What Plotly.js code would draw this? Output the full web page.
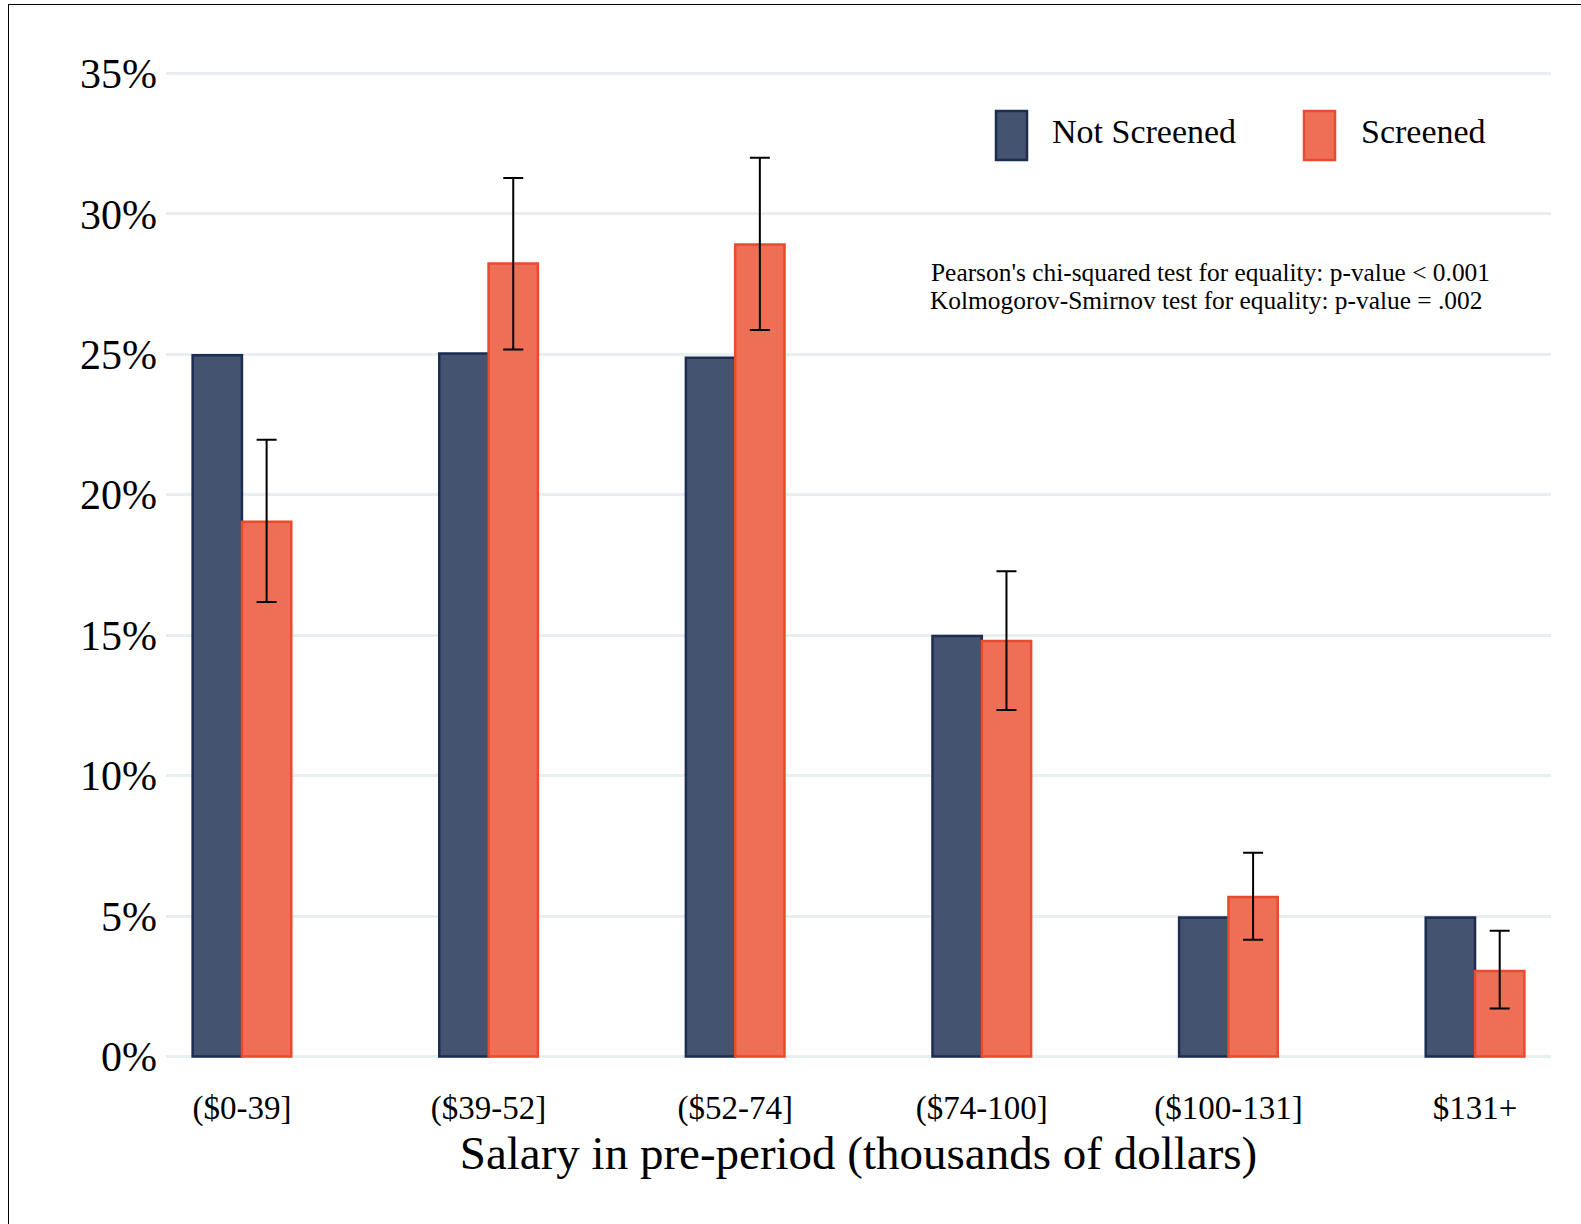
<!DOCTYPE html>
<html>
<head>
<meta charset="utf-8">
<script src="https://cdn.plot.ly/plotly-3.0.1.min.js"></script>
<style>
  html, body { margin: 0; padding: 0; background: #fff; }
  #chart { width: 1581px; height: 1224px; position: relative; }
  #frame { position: absolute; left: 8px; top: 4px; right: 0; bottom: 0;
           border-left: 1.5px solid #000; border-top: 1.5px solid #000; pointer-events: none; }
</style>
</head>
<body>
<div id="chart"></div>
<div id="frame"></div>
<script>
// ---- data ----
const categories = ["($0-39]", "($39-52]", "($52-74]", "($74-100]", "($100-131]", "$131+"];
const notScreened = [24.97, 25.03, 24.88, 14.97, 4.95, 4.95];
const screened    = [19.04, 28.23, 28.91, 14.79, 5.68, 3.05];
const screenedCiHigh = [21.96, 31.28, 32.00, 17.28, 7.26, 4.48];
const screenedCiLow  = [16.18, 25.17, 25.87, 12.34, 4.16, 1.71];
const yTickVals = [0, 5, 10, 15, 20, 25, 30, 35];
const seriesNames = ["Not Screened", "Screened"];
const noteLines = [
  "Pearson's chi-squared test for equality: p-value < 0.001",
  "Kolmogorov-Smirnov test for equality: p-value = .002"
];

// ---- styles ----
const FONT = '"Liberation Serif", "Times New Roman", Times, serif';
const darkFill = '#44536f', darkLine = '#1b2d51';
const orangeFill = '#ee6f55', orangeLine = '#e84b2d';

const errPlus = screened.map((v, i) => screenedCiHigh[i] - v);
const errMinus = screened.map((v, i) => v - screenedCiLow[i]);

const W = 1581, H = 1224;
const L = 166, R = 30, T = 65, B = 159;
const plotW = W - L - R, plotH = H - T - B;
const px2x = px => (px - L) / plotW;
const py2y = py => (H - B - py) / plotH;

const traces = [
  {
    type: 'bar', name: seriesNames[0], x: categories, y: notScreened,
    marker: { color: darkFill, line: { color: darkLine, width: 2.5 } },
    showlegend: false, hoverinfo: 'skip'
  },
  {
    type: 'bar', name: seriesNames[1], x: categories, y: screened,
    marker: { color: orangeFill, line: { color: orangeLine, width: 2.5 } },
    error_y: { type: 'data', symmetric: false, array: errPlus, arrayminus: errMinus,
               color: '#000', thickness: 2, width: 10 },
    showlegend: false, hoverinfo: 'skip'
  }
];

const shapes = [
  { type: 'rect', xref: 'paper', yref: 'paper', x0: px2x(996), x1: px2x(1027), y0: py2y(160), y1: py2y(111),
    fillcolor: darkFill, line: { color: darkLine, width: 2.5 } },
  { type: 'rect', xref: 'paper', yref: 'paper', x0: px2x(1304), x1: px2x(1335), y0: py2y(160), y1: py2y(111),
    fillcolor: orangeFill, line: { color: orangeLine, width: 2.5 } }
];

const annotations = [
  { xref: 'paper', yref: 'paper', x: px2x(1050), y: py2y(132), xanchor: 'left', yanchor: 'middle',
    text: seriesNames[0], showarrow: false, font: { family: FONT, size: 34, color: '#000' } },
  { xref: 'paper', yref: 'paper', x: px2x(1359), y: py2y(132), xanchor: 'left', yanchor: 'middle',
    text: seriesNames[1], showarrow: false, font: { family: FONT, size: 34, color: '#000' } },
  { xref: 'paper', yref: 'paper', x: px2x(1210), y: py2y(272), xanchor: 'center', yanchor: 'middle',
    text: noteLines[0], showarrow: false, font: { family: FONT, size: 25.4, color: '#000' } },
  { xref: 'paper', yref: 'paper', x: px2x(1206), y: py2y(300), xanchor: 'center', yanchor: 'middle',
    text: noteLines[1], showarrow: false, font: { family: FONT, size: 25.4, color: '#000' } }
];

const layout = {
  width: W, height: H,
  margin: { l: L, r: R, t: T, b: B, pad: 0 },
  paper_bgcolor: '#fff', plot_bgcolor: '#fff',
  barmode: 'group', bargap: 0.6, bargroupgap: 0,
  showlegend: false,
  font: { family: FONT, color: '#000' },
  xaxis: {
    type: 'category', range: [-0.308, 5.308], showgrid: false, zeroline: false, showline: false,
    ticks: '', tickfont: { family: FONT, size: 33, color: '#000' }, ticklabelstandoff: 20,
    title: { text: 'Salary in pre-period (thousands of dollars)', font: { family: FONT, size: 47, color: '#000' }, standoff: 0 }
  },
  yaxis: {
    range: [-0.3, 35.3], tickvals: yTickVals, ticktext: yTickVals.map(v => v + '%'),
    showgrid: true, gridcolor: '#e8eff1', gridwidth: 3, zeroline: false, showline: false,
    ticks: '', tickfont: { family: FONT, size: 42, color: '#000' }, ticklabelstandoff: 8
  },
  shapes: shapes,
  annotations: annotations
};

Plotly.newPlot('chart', traces, layout, { staticPlot: true, displayModeBar: false });
</script>
</body>
</html>
